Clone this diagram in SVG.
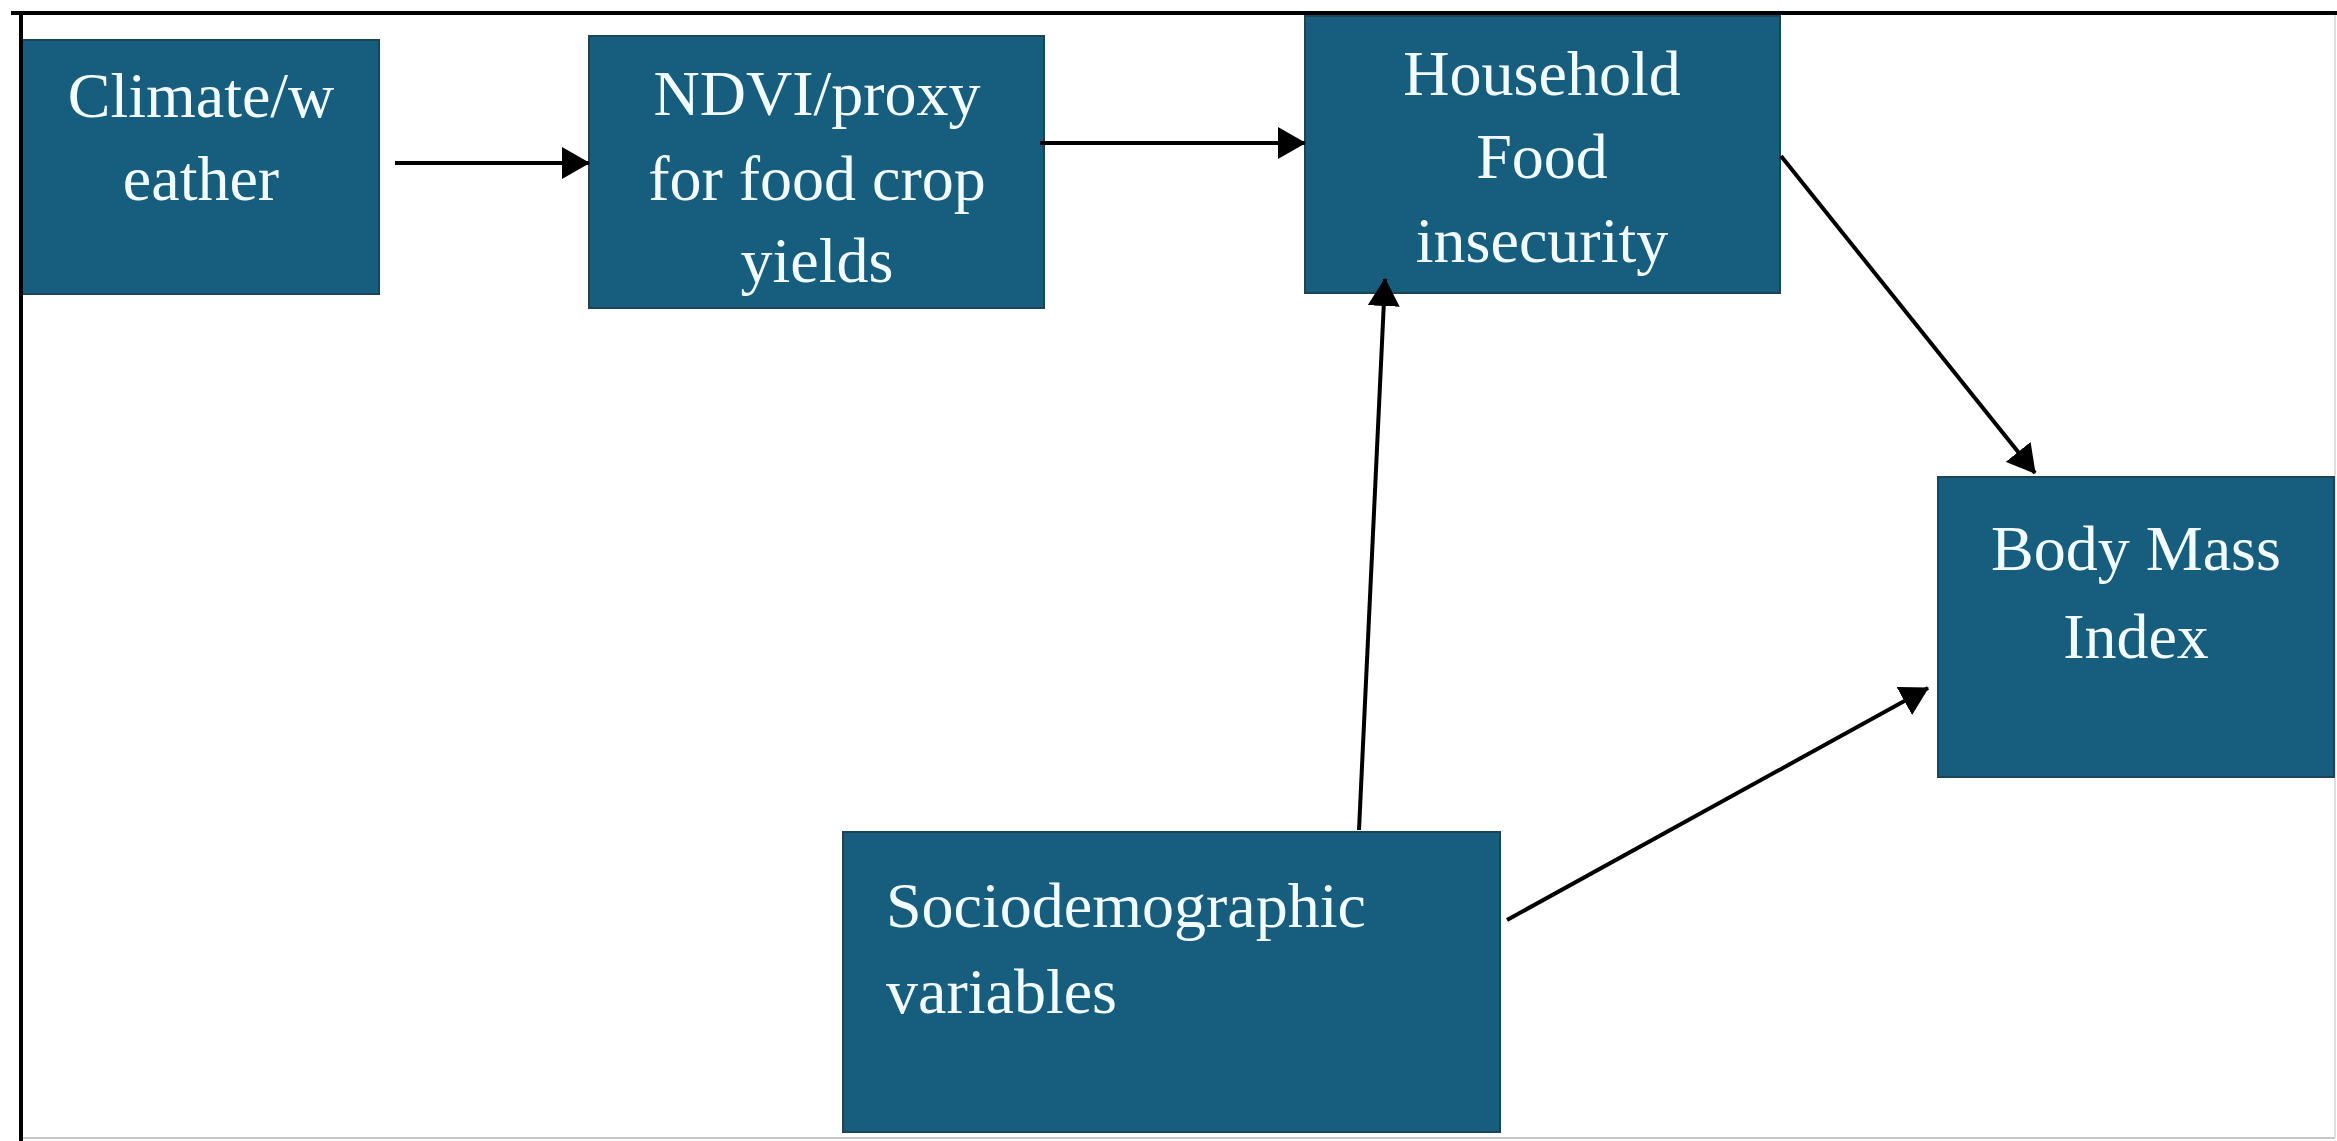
<svg xmlns="http://www.w3.org/2000/svg" width="2337" height="1141" viewBox="0 0 2337 1141">
  <style>
    .box { fill: #175d7d; stroke: #1b4458; stroke-width: 2; }
    .lbl { font-family: "Liberation Serif", "Times New Roman", serif; font-size: 64px; fill: #f2fbff; }
    .mid { text-anchor: middle; }
    .conn { stroke: #000; stroke-width: 4; fill: none; marker-end: url(#arrow); }
  </style>
  <defs>
    <marker id="arrow" viewBox="0 0 28 32" refX="27" refY="16" markerWidth="28" markerHeight="32" markerUnits="userSpaceOnUse" orient="auto">
      <path d="M0,0 L28,16 L0,32 z" fill="#000"/>
    </marker>
  </defs>
  <rect x="0" y="0" width="2337" height="1141" fill="#ffffff"/>
  <g id="frame">
    <line x1="21" y1="1138" x2="2335" y2="1138" stroke="#c8c8c8" stroke-width="2"/>
    <line x1="2335" y1="13" x2="2335" y2="1138" stroke="#e0e0e0" stroke-width="2"/>
  </g>
  <g id="climate">
    <rect class="box" x="22" y="40" width="357" height="254"/>
    <text class="lbl mid" x="201" y="117">Climate/w</text>
    <text class="lbl mid" x="201" y="200">eather</text>
  </g>
  <g id="ndvi">
    <rect class="box" x="589" y="36" width="455" height="272"/>
    <text class="lbl mid" x="817" y="115">NDVI/proxy</text>
    <text class="lbl mid" x="817" y="200">for food crop</text>
    <text class="lbl mid" x="817" y="282">yields</text>
  </g>
  <g id="household">
    <rect class="box" x="1305" y="16" width="475" height="277"/>
    <text class="lbl mid" x="1542" y="95">Household</text>
    <text class="lbl mid" x="1542" y="178">Food</text>
    <text class="lbl mid" x="1542" y="262">insecurity</text>
  </g>
  <g id="bmi">
    <rect class="box" x="1938" y="477" width="396" height="300"/>
    <text class="lbl mid" x="2136" y="570">Body Mass</text>
    <text class="lbl mid" x="2136" y="658">Index</text>
  </g>
  <g id="socio">
    <rect class="box" x="843" y="832" width="657" height="300"/>
    <text class="lbl" x="886" y="927">Sociodemographic</text>
    <text class="lbl" x="886" y="1013">variables</text>
  </g>
  <g id="border-top-left">
    <line x1="11" y1="13" x2="2337" y2="13" stroke="#000" stroke-width="4"/>
    <line x1="21" y1="11" x2="21" y2="1141" stroke="#000" stroke-width="4"/>
  </g>
  <g id="connectors">
    <line class="conn" x1="395" y1="163" x2="589" y2="163"/>
    <line class="conn" x1="1040" y1="143" x2="1305" y2="143"/>
    <line class="conn" x1="1781" y1="156" x2="2035" y2="473"/>
    <line class="conn" x1="1359" y1="830" x2="1385" y2="279"/>
    <line class="conn" x1="1507" y1="920" x2="1928" y2="688"/>
  </g>
</svg>
